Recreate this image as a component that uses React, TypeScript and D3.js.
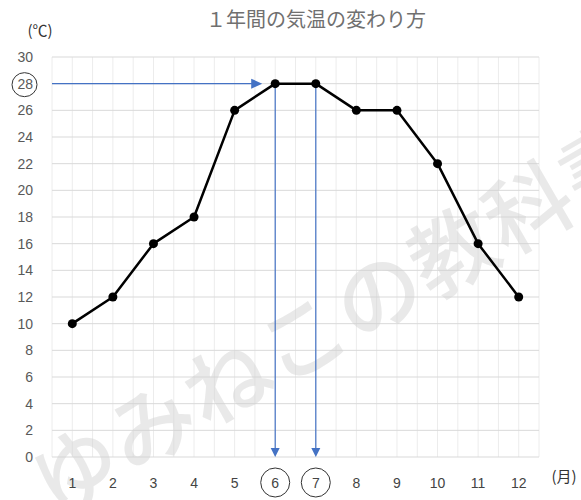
import React from "react";
import * as d3 from "d3";

const months = ["1", "2", "3", "4", "5", "6", "7", "8", "9", "10", "11", "12"];
const temps = [10, 12, 16, 18, 26, 28, 28, 26, 26, 22, 16, 12];
const yTicks = [0, 2, 4, 6, 8, 10, 12, 14, 16, 18, 20, 22, 24, 26, 28, 30];
const highlightValue = 28;
const highlightMonths = ["6", "7"];
const title = "１年間の気温の変わり方";
const yUnit = "(℃)";
const xUnit = "(月)";
const watermark = "ゆみねこの教科書";

const W = 581;
const H = 500;
const left = 52;
const right = 539;
const top = 57;
const bottom = 457;
const blue = "#4472c4";
const gray = "#595959";
const numFont = "'Liberation Sans', 'Noto Sans', sans-serif";
const jpFont = "'Noto Sans CJK JP', sans-serif";

export default function App() {
  const x = d3.scaleBand<string>().domain(months).range([left, right]).padding(0);
  const y = d3.scaleLinear().domain([0, 30]).range([bottom, top]);
  const cx = (m: string) => (x(m) as number) + x.bandwidth() / 2;

  const vLines: number[] = [];
  months.forEach((m) => {
    vLines.push(x(m) as number);
    vLines.push(cx(m));
  });
  vLines.push(right);

  const line = d3
    .line<number>()
    .x((_, i) => cx(months[i]))
    .y((d) => y(d));

  const hy = y(highlightValue);
  const hx0 = cx(highlightMonths[0]);

  return (
    <svg
      width={W}
      height={H}
      style={{ position: "absolute", left: 0, top: 0, background: "#fff" }}
    >
      <rect x={0} y={0} width={W} height={H} fill="#fff" />
      {/* title */}
      <text x={316} y={27} textAnchor="middle" fontSize={20} fill="#707070" fontFamily={jpFont}>
        {title}
      </text>
      <text x={40} y={36} textAnchor="middle" fontSize={15} fill="#333" fontFamily={jpFont}>
        {yUnit}
      </text>
      {/* grid */}
      {vLines.map((v, i) => (
        <line key={"v" + i} x1={v} x2={v} y1={top} y2={bottom} stroke="#ececec" strokeWidth={1} />
      ))}
      {yTicks.map((t) => (
        <line key={"h" + t} x1={left} x2={right} y1={y(t)} y2={y(t)} stroke="#d9d9d9" strokeWidth={1} />
      ))}
      {/* watermark */}
      <text
        transform="translate(55,518) rotate(-30)"
        fontSize={86}
        fill="#d0d0d0"
        opacity={0.45}
        fontFamily={jpFont}
        fontWeight={500}
        letterSpacing={1}
      >
        {watermark}
      </text>
      {/* y labels */}
      {yTicks.map((t) => (
        <text
          key={"yl" + t}
          x={33}
          y={y(t) + 5}
          textAnchor="end"
          fontSize={14}
          fill={gray}
          fontFamily={numFont}
        >
          {t}
        </text>
      ))}
      <ellipse cx={24.5} cy={hy + 1} rx={12.5} ry={12} fill="none" stroke="#333" strokeWidth={1} />
      {/* x labels */}
      {months.map((m) => (
        <text
          key={"xl" + m}
          x={cx(m)}
          y={488}
          textAnchor="middle"
          fontSize={14}
          fill="#444"
          fontFamily={numFont}
        >
          {m}
        </text>
      ))}
      {highlightMonths.map((m) => (
        <circle key={"c" + m} cx={cx(m)} cy={482.5} r={14.5} fill="none" stroke="#333" strokeWidth={1} />
      ))}
      <text x={564} y={482} textAnchor="middle" fontSize={15} fill="#333" fontFamily={jpFont}>
        {xUnit}
      </text>
      {/* blue arrows */}
      <line x1={left} x2={hx0 - 22} y1={hy} y2={hy} stroke={blue} strokeWidth={1.2} />
      <path
        d={`M${hx0 - 13},${hy} L${hx0 - 24},${hy - 5} L${hx0 - 24},${hy + 5} Z`}
        fill={blue}
      />
      {highlightMonths.map((m) => {
        const px = cx(m);
        return (
          <g key={"a" + m}>
            <line x1={px} x2={px} y1={hy} y2={bottom - 8} stroke={blue} strokeWidth={1.2} />
            <path d={`M${px},${bottom} L${px - 4.5},${bottom - 9} L${px + 4.5},${bottom - 9} Z`} fill={blue} />
          </g>
        );
      })}
      {/* data line */}
      <path d={line(temps) || ""} fill="none" stroke="#000" strokeWidth={2.5} strokeLinejoin="round" />
      {temps.map((t, i) => (
        <circle key={"p" + i} cx={cx(months[i])} cy={y(t)} r={4.5} fill="#000" />
      ))}
    </svg>
  );
}
